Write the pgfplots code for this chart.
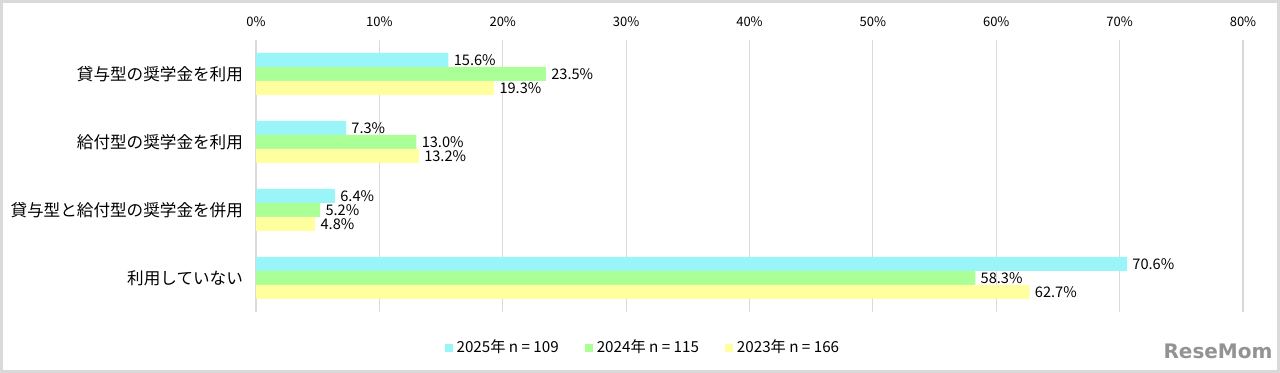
\documentclass[border=0pt]{standalone}
\usepackage{fontspec}
\setmainfont{Noto Sans CJK JP}
\newfontfamily\logofont{DejaVu Sans}
\usepackage{pgfplots}
\pgfplotsset{compat=1.18}
\definecolor{c25}{RGB}{153,245,247}
\definecolor{c24}{RGB}{170,255,150}
\definecolor{c23}{RGB}{255,255,160}
\definecolor{gridc}{RGB}{217,217,217}
\begin{document}
\begin{tikzpicture}
\useasboundingbox (-128pt,-30.5pt) rectangle (512pt,156pt);
\fill[white] (-128pt,-30.5pt) rectangle (512pt,156pt);
\begin{axis}[
  scale only axis, width=493.5pt, height=136pt,
  xmin=0, xmax=80, ymin=-0.5, ymax=3.5, y dir=reverse,
  axis line style={draw=none}, major tick length=0pt,
  xtick={0,10,...,80},
  xticklabel={\pgfmathprintnumber{\tick}\%},
  xticklabel pos=right,
  xticklabel style={font=\fontsize{6.5}{7}\selectfont, yshift=3pt},
  xmajorgrids, grid style={draw=gridc, line width=0.6pt},
  ytick={0,1,2,3},
  yticklabels={貸与型の奨学金を利用,給付型の奨学金を利用,貸与型と給付型の奨学金を併用,利用していない},
  yticklabel style={font=\fontsize{8.3}{9}\selectfont, xshift=-3pt},
  /pgf/number format/assume math mode=true,
  xbar, bar width=7pt,
  nodes near coords={\pgfmathprintnumber[fixed,fixed zerofill,precision=1]{\pgfplotspointmeta}\%},
  every node near coord/.append style={font=\fontsize{7.3}{8}\selectfont, anchor=west, inner sep=2.5pt},
  legend columns=3,
  legend style={draw=none, fill=none, at={(0.393,-0.132)}, anchor=center, font=\fontsize{7.6}{8}\selectfont,
    /tikz/every even column/.append style={column sep=11pt}},
  legend image code/.code={\fill[#1] (0pt,-2pt) rectangle (4pt,2pt);},
]
\addplot[fill=c25, draw=none, bar shift=7pt] coordinates {(15.6,0) (7.3,1) (6.4,2) (70.6,3)};
\addplot[fill=c24, draw=none, bar shift=0pt] coordinates {(23.5,0) (13.0,1) (5.2,2) (58.3,3)};
\addplot[fill=c23, draw=none, bar shift=-7pt] coordinates {(19.3,0) (13.2,1) (4.8,2) (62.7,3)};
\legend{2025年 n = 109, 2024年 n = 115, 2023年 n = 166}
\end{axis}
\node[font=\logofont\bfseries\fontsize{10}{10}\selectfont, text=gray!85] at (481pt,-19.5pt) {ReseMom};
\draw[gridc, line width=1.5pt] (-127.25pt,-29.75pt) rectangle (511.25pt,155.25pt);
\end{tikzpicture}
\end{document}
